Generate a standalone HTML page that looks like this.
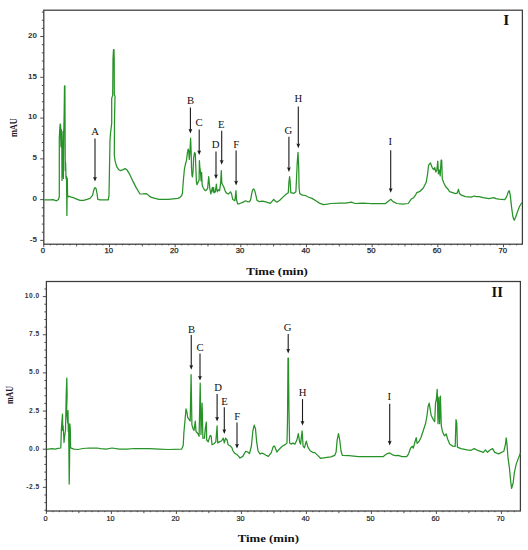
<!DOCTYPE html>
<html><head><meta charset="utf-8"><style>
html,body{margin:0;padding:0;background:#fff;}
body{width:528px;height:550px;overflow:hidden;}
svg{display:block;}
.yl1{font-family:"Liberation Sans",sans-serif;font-size:8px;font-weight:bold;fill:#333;}
.yl2{font-family:"Liberation Sans",sans-serif;font-size:6.6px;font-weight:bold;fill:#333;letter-spacing:0.5px;}
.xl1{font-family:"Liberation Sans",sans-serif;font-size:7.7px;fill:#222;stroke:#222;stroke-width:0.25px;}
.xl2{font-family:"Liberation Sans",sans-serif;font-size:7.3px;fill:#222;stroke:#222;stroke-width:0.2px;}
.pk{font-family:"Liberation Serif",serif;font-size:10.7px;fill:#111;}
.mau{font-family:"Liberation Serif",serif;font-size:9.6px;font-weight:bold;fill:#1a1a2a;}
.tt{font-family:"Liberation Serif",serif;font-size:12.6px;font-weight:bold;fill:#111;}
.rn{font-family:"Liberation Serif",serif;font-size:14.3px;font-weight:bold;fill:#111;}
</style></head><body>
<svg width="528" height="550" viewBox="0 0 528 550">
<rect x="43.8" y="10.2" width="478.59999999999997" height="234.0" fill="none" stroke="#3c3c3c" stroke-width="1.25"/>
<path d="M40.2 240.39H43.8 M41.8 232.24H43.8 M41.8 224.08H43.8 M41.8 215.93H43.8 M41.8 207.77H43.8 M40.2 199.62H43.8 M41.8 191.47H43.8 M41.8 183.31H43.8 M41.8 175.16H43.8 M41.8 167.00H43.8 M40.2 158.85H43.8 M41.8 150.70H43.8 M41.8 142.54H43.8 M41.8 134.39H43.8 M41.8 126.23H43.8 M40.2 118.08H43.8 M41.8 109.93H43.8 M41.8 101.77H43.8 M41.8 93.62H43.8 M41.8 85.46H43.8 M40.2 77.31H43.8 M41.8 69.16H43.8 M41.8 61.00H43.8 M41.8 52.85H43.8 M41.8 44.69H43.8 M40.2 36.54H43.8 M41.8 28.39H43.8 M41.8 20.23H43.8 M41.8 12.08H43.8" stroke="#3c3c3c" stroke-width="0.9" fill="none"/>
<text x="36.9" y="241.69" text-anchor="end" class="yl1">-5</text>
<text x="36.9" y="200.92" text-anchor="end" class="yl1">0</text>
<text x="36.9" y="160.15" text-anchor="end" class="yl1">5</text>
<text x="36.9" y="119.38" text-anchor="end" class="yl1">10</text>
<text x="36.9" y="78.61" text-anchor="end" class="yl1">15</text>
<text x="36.9" y="37.84" text-anchor="end" class="yl1">20</text>
<path d="M43.80 244.2V247.2 M50.37 244.2V245.39999999999998 M56.93 244.2V245.39999999999998 M63.50 244.2V245.39999999999998 M70.07 244.2V245.39999999999998 M76.63 244.2V246.39999999999998 M83.20 244.2V245.39999999999998 M89.77 244.2V245.39999999999998 M96.34 244.2V245.39999999999998 M102.90 244.2V245.39999999999998 M109.47 244.2V247.2 M116.04 244.2V245.39999999999998 M122.60 244.2V245.39999999999998 M129.17 244.2V245.39999999999998 M135.74 244.2V245.39999999999998 M142.31 244.2V246.39999999999998 M148.87 244.2V245.39999999999998 M155.44 244.2V245.39999999999998 M162.01 244.2V245.39999999999998 M168.57 244.2V245.39999999999998 M175.14 244.2V247.2 M181.71 244.2V245.39999999999998 M188.27 244.2V245.39999999999998 M194.84 244.2V245.39999999999998 M201.41 244.2V245.39999999999998 M207.98 244.2V246.39999999999998 M214.54 244.2V245.39999999999998 M221.11 244.2V245.39999999999998 M227.68 244.2V245.39999999999998 M234.24 244.2V245.39999999999998 M240.81 244.2V247.2 M247.38 244.2V245.39999999999998 M253.94 244.2V245.39999999999998 M260.51 244.2V245.39999999999998 M267.08 244.2V245.39999999999998 M273.64 244.2V246.39999999999998 M280.21 244.2V245.39999999999998 M286.78 244.2V245.39999999999998 M293.35 244.2V245.39999999999998 M299.91 244.2V245.39999999999998 M306.48 244.2V247.2 M313.05 244.2V245.39999999999998 M319.61 244.2V245.39999999999998 M326.18 244.2V245.39999999999998 M332.75 244.2V245.39999999999998 M339.31 244.2V246.39999999999998 M345.88 244.2V245.39999999999998 M352.45 244.2V245.39999999999998 M359.02 244.2V245.39999999999998 M365.58 244.2V245.39999999999998 M372.15 244.2V247.2 M378.72 244.2V245.39999999999998 M385.28 244.2V245.39999999999998 M391.85 244.2V245.39999999999998 M398.42 244.2V245.39999999999998 M404.99 244.2V246.39999999999998 M411.55 244.2V245.39999999999998 M418.12 244.2V245.39999999999998 M424.69 244.2V245.39999999999998 M431.25 244.2V245.39999999999998 M437.82 244.2V247.2 M444.39 244.2V245.39999999999998 M450.95 244.2V245.39999999999998 M457.52 244.2V245.39999999999998 M464.09 244.2V245.39999999999998 M470.66 244.2V246.39999999999998 M477.22 244.2V245.39999999999998 M483.79 244.2V245.39999999999998 M490.36 244.2V245.39999999999998 M496.92 244.2V245.39999999999998 M503.49 244.2V247.2 M510.06 244.2V245.39999999999998 M516.62 244.2V245.39999999999998" stroke="#3c3c3c" stroke-width="0.9" fill="none"/>
<text x="43.00" y="253.3" text-anchor="middle" class="xl1">0</text>
<text x="108.67" y="253.3" text-anchor="middle" class="xl1">10</text>
<text x="174.34" y="253.3" text-anchor="middle" class="xl1">20</text>
<text x="240.01" y="253.3" text-anchor="middle" class="xl1">30</text>
<text x="305.68" y="253.3" text-anchor="middle" class="xl1">40</text>
<text x="371.35" y="253.3" text-anchor="middle" class="xl1">50</text>
<text x="437.02" y="253.3" text-anchor="middle" class="xl1">60</text>
<text x="502.69" y="253.3" text-anchor="middle" class="xl1">70</text>
<rect x="46.4" y="281.5" width="474.0" height="229.5" fill="none" stroke="#3c3c3c" stroke-width="1.25"/>
<path d="M44.4 510.24H46.4 M44.4 502.61H46.4 M44.4 494.98H46.4 M42.8 487.35H46.4 M44.4 479.72H46.4 M44.4 472.09H46.4 M44.4 464.46H46.4 M44.4 456.83H46.4 M42.8 449.20H46.4 M44.4 441.57H46.4 M44.4 433.94H46.4 M44.4 426.31H46.4 M44.4 418.68H46.4 M42.8 411.05H46.4 M44.4 403.42H46.4 M44.4 395.79H46.4 M44.4 388.16H46.4 M44.4 380.53H46.4 M42.8 372.90H46.4 M44.4 365.27H46.4 M44.4 357.64H46.4 M44.4 350.01H46.4 M44.4 342.38H46.4 M42.8 334.75H46.4 M44.4 327.12H46.4 M44.4 319.49H46.4 M44.4 311.86H46.4 M44.4 304.23H46.4 M42.8 296.60H46.4 M44.4 288.97H46.4" stroke="#3c3c3c" stroke-width="0.9" fill="none"/>
<text x="39.7" y="488.85" text-anchor="end" class="yl2">-2.5</text>
<text x="39.7" y="450.70" text-anchor="end" class="yl2">0.0</text>
<text x="39.7" y="412.55" text-anchor="end" class="yl2">2.5</text>
<text x="39.7" y="374.40" text-anchor="end" class="yl2">5.0</text>
<text x="39.7" y="336.25" text-anchor="end" class="yl2">7.5</text>
<text x="39.7" y="298.10" text-anchor="end" class="yl2">10.0</text>
<path d="M46.40 511.0V514.0 M52.90 511.0V512.2 M59.40 511.0V512.2 M65.90 511.0V512.2 M72.40 511.0V512.2 M78.90 511.0V513.2 M85.40 511.0V512.2 M91.90 511.0V512.2 M98.40 511.0V512.2 M104.90 511.0V512.2 M111.40 511.0V514.0 M117.90 511.0V512.2 M124.40 511.0V512.2 M130.90 511.0V512.2 M137.40 511.0V512.2 M143.90 511.0V513.2 M150.40 511.0V512.2 M156.90 511.0V512.2 M163.40 511.0V512.2 M169.90 511.0V512.2 M176.40 511.0V514.0 M182.90 511.0V512.2 M189.40 511.0V512.2 M195.90 511.0V512.2 M202.40 511.0V512.2 M208.90 511.0V513.2 M215.40 511.0V512.2 M221.90 511.0V512.2 M228.40 511.0V512.2 M234.90 511.0V512.2 M241.40 511.0V514.0 M247.90 511.0V512.2 M254.40 511.0V512.2 M260.90 511.0V512.2 M267.40 511.0V512.2 M273.90 511.0V513.2 M280.40 511.0V512.2 M286.90 511.0V512.2 M293.40 511.0V512.2 M299.90 511.0V512.2 M306.40 511.0V514.0 M312.90 511.0V512.2 M319.40 511.0V512.2 M325.90 511.0V512.2 M332.40 511.0V512.2 M338.90 511.0V513.2 M345.40 511.0V512.2 M351.90 511.0V512.2 M358.40 511.0V512.2 M364.90 511.0V512.2 M371.40 511.0V514.0 M377.90 511.0V512.2 M384.40 511.0V512.2 M390.90 511.0V512.2 M397.40 511.0V512.2 M403.90 511.0V513.2 M410.40 511.0V512.2 M416.90 511.0V512.2 M423.40 511.0V512.2 M429.90 511.0V512.2 M436.40 511.0V514.0 M442.90 511.0V512.2 M449.40 511.0V512.2 M455.90 511.0V512.2 M462.40 511.0V512.2 M468.90 511.0V513.2 M475.40 511.0V512.2 M481.90 511.0V512.2 M488.40 511.0V512.2 M494.90 511.0V512.2 M501.40 511.0V514.0 M507.90 511.0V512.2 M514.40 511.0V512.2" stroke="#3c3c3c" stroke-width="0.9" fill="none"/>
<text x="45.60" y="520.6" text-anchor="middle" class="xl2">0</text>
<text x="110.60" y="520.6" text-anchor="middle" class="xl2">10</text>
<text x="175.60" y="520.6" text-anchor="middle" class="xl2">20</text>
<text x="240.60" y="520.6" text-anchor="middle" class="xl2">30</text>
<text x="305.60" y="520.6" text-anchor="middle" class="xl2">40</text>
<text x="370.60" y="520.6" text-anchor="middle" class="xl2">50</text>
<text x="435.60" y="520.6" text-anchor="middle" class="xl2">60</text>
<text x="500.60" y="520.6" text-anchor="middle" class="xl2">70</text>
<polyline points="44.2,199.9 50.0,199.9 53.0,199.6 56.5,200.8 58.5,199.4 59.3,196.8 59.3,137.7 59.8,128.4 60.2,124.0 60.6,125.4 61.0,146.8 60.6,135.4 61.3,129.4 61.8,146.8 62.0,180.4 62.3,150.4 62.6,176.4 63.0,131.4 63.4,178.4 63.8,131.4 64.2,110.4 64.5,85.9 64.9,85.9 65.1,131.4 65.3,170.4 65.6,162.4 66.0,178.4 66.5,176.4 66.9,215.4 67.3,178.4 67.6,195.4 68.4,196.8 69.5,196.4 71.3,197.1 73.5,197.6 75.4,198.7 80.0,200.4 83.6,200.3 87.0,199.4 90.0,198.4 92.5,195.4 94.0,189.4 95.0,187.6 96.0,188.4 97.0,193.4 97.8,199.4 100.0,199.9 105.0,199.9 108.2,199.9 109.0,195.4 109.5,167.2 110.0,140.4 110.5,133.4 111.7,123.4 111.7,98.4 112.7,95.1 113.0,59.4 113.5,49.6 114.0,49.9 114.2,59.4 114.3,95.1 115.0,95.9 114.5,120.4 114.3,155.0 115.0,160.4 115.7,163.2 117.0,167.2 118.5,169.4 120.5,170.7 122.5,169.9 125.2,168.6 127.0,169.9 128.5,172.4 130.0,174.9 133.0,181.4 136.0,187.4 140.0,194.0 143.0,193.9 146.6,193.6 149.0,195.9 151.4,197.4 155.0,198.4 159.0,199.4 168.4,199.4 177.9,198.4 180.0,197.4 181.7,195.5 182.4,193.3 183.3,181.3 184.4,169.3 185.5,163.8 186.5,160.4 187.4,152.9 188.2,149.1 188.7,150.8 189.3,159.4 189.8,154.0 190.6,138.2 190.9,145.3 191.2,154.0 191.5,167.1 192.0,175.8 192.5,176.9 193.1,170.4 193.6,158.4 194.2,154.0 194.7,152.4 195.3,154.0 195.8,167.1 196.4,181.3 196.9,184.6 198.0,182.4 199.1,180.2 199.4,160.6 199.8,167.1 200.2,169.3 200.7,175.8 201.1,180.9 201.6,172.4 202.2,185.3 203.3,188.0 204.4,189.7 205.5,190.7 206.5,189.7 207.6,188.6 208.7,176.6 209.3,183.1 209.8,188.6 210.9,194.0 212.0,188.6 212.5,187.5 213.1,191.8 213.6,187.5 214.2,192.9 215.3,191.8 216.4,184.2 216.9,189.7 217.4,191.8 218.5,189.7 219.6,190.7 220.2,186.4 220.7,182.0 221.3,170.6 221.8,183.1 222.9,185.3 224.0,187.5 225.1,190.7 226.2,192.9 228.4,194.0 229.5,192.9 230.5,191.8 231.6,194.0 232.7,199.5 234.9,200.6 236.0,190.7 236.5,199.5 237.6,203.8 239.3,203.8 241.4,202.8 243.6,201.9 245.7,200.8 247.6,201.8 249.5,201.6 250.6,199.8 251.7,193.6 252.6,189.9 253.6,188.9 254.6,190.4 255.5,193.6 257.0,200.3 258.9,201.6 262.7,201.2 266.5,202.2 270.3,203.4 272.2,201.2 273.7,199.3 275.0,200.8 276.9,202.2 279.8,200.3 282.6,197.4 286.4,194.0 288.3,192.7 288.9,182.3 289.6,176.6 290.2,182.3 290.8,192.7 294.0,193.3 295.9,191.7 297.2,163.3 298.0,152.4 298.7,167.1 299.1,188.0 299.8,193.6 302.5,195.2 305.3,195.5 308.2,197.0 312.0,198.4 315.8,200.8 319.5,203.1 323.3,204.6 327.1,204.1 330.9,203.5 340.0,203.1 345.7,203.1 351.4,202.2 355.2,203.5 362.7,203.1 370.3,203.5 377.9,203.5 385.5,203.5 388.3,201.2 390.8,199.3 393.0,201.6 396.8,203.5 402.5,204.2 408.2,203.5 411.0,199.3 413.9,197.4 415.8,194.6 416.7,192.7 419.5,191.7 423.3,188.0 426.2,182.3 427.5,174.7 428.6,165.2 430.5,163.0 432.4,168.1 433.8,169.6 434.8,167.6 435.8,172.0 436.8,170.0 437.8,161.1 438.4,173.9 439.4,170.0 440.2,175.9 441.1,160.2 441.7,160.2 442.3,178.9 443.7,182.8 445.7,186.7 447.6,188.7 449.6,191.7 452.6,192.7 455.5,193.6 457.1,193.2 458.5,189.3 459.5,193.6 461.4,195.2 465.4,196.6 471.3,197.2 474.2,196.0 476.2,196.6 479.2,196.6 483.1,197.6 489.0,198.6 493.9,197.6 495.9,198.6 498.8,199.2 504.8,199.6 506.7,196.6 508.3,191.7 509.3,190.7 510.3,195.6 511.6,207.4 513.0,217.3 514.2,220.2 515.6,217.3 517.6,211.4 519.5,206.5 521.9,202.5" fill="none" stroke="#279227" stroke-width="1.25" stroke-linejoin="round"/>
<polyline points="46.6,449.3 52.0,448.7 55.0,449.1 58.0,448.4 60.8,448.0 61.4,428.7 62.0,420.5 62.5,414.2 62.8,430.5 62.2,428.5 63.1,425.8 63.7,435.5 64.0,442.5 64.6,436.5 65.5,430.5 66.2,395.5 66.8,378.1 67.1,395.5 66.6,410.5 67.7,422.9 68.0,410.5 68.3,431.5 68.6,423.5 69.0,460.5 69.2,484.0 69.6,460.5 69.8,423.9 70.3,428.5 70.6,448.0 71.2,448.2 74.0,449.1 77.9,449.5 83.0,448.5 89.2,448.0 96.8,448.0 100.6,448.7 106.3,449.1 112.0,448.0 119.5,449.1 127.0,449.1 134.7,448.5 140.0,448.6 149.5,448.6 158.9,449.1 168.4,449.5 181.7,449.1 183.2,445.5 183.9,432.5 185.1,419.2 186.0,408.8 187.0,412.5 187.7,417.3 188.9,419.2 190.2,421.1 191.1,374.7 191.9,424.9 193.0,428.5 194.0,430.5 195.3,421.1 196.0,431.5 197.8,433.5 199.1,436.3 200.2,383.2 201.0,434.4 202.1,403.1 202.9,438.2 204.4,438.2 205.3,428.7 206.3,422.1 206.7,440.0 208.2,441.9 210.1,435.3 211.2,436.3 212.0,444.8 213.9,443.8 215.8,441.9 217.1,425.8 217.7,442.9 219.5,441.9 221.4,441.0 223.3,438.2 224.3,442.9 225.6,438.2 227.1,440.0 228.1,444.8 230.0,445.7 231.9,447.6 232.8,450.5 234.7,453.3 236.6,454.3 238.5,456.1 240.0,458.0 242.8,456.4 245.7,451.3 247.6,452.0 249.5,453.5 251.4,446.0 252.9,430.8 254.2,425.1 255.5,428.9 256.7,442.2 258.0,450.7 259.9,453.9 262.7,453.2 265.6,455.0 268.4,456.4 271.3,452.6 273.1,446.9 274.5,446.0 276.0,449.7 276.9,452.0 278.8,449.7 280.7,447.8 282.6,446.0 285.5,444.4 287.0,443.1 287.5,420.5 288.0,358.0 288.4,358.0 288.9,406.2 289.6,443.1 291.1,444.1 293.0,443.1 294.9,444.1 296.8,440.3 298.3,433.6 299.7,442.2 300.6,444.1 302.1,430.8 303.1,446.0 304.4,447.8 306.3,441.2 307.8,446.9 310.1,450.7 312.9,452.6 314.8,452.6 317.7,455.4 320.5,458.3 325.2,457.7 330.9,456.9 334.7,455.4 336.1,451.9 337.2,439.6 338.5,433.6 339.8,440.5 341.0,451.0 342.3,455.3 349.0,455.7 358.4,456.7 368.0,456.7 377.0,456.7 383.0,456.7 386.8,453.8 389.7,452.9 392.5,454.8 395.3,455.7 398.2,455.3 402.0,456.7 406.7,456.7 408.6,453.8 410.5,448.2 412.4,446.3 413.3,448.2 414.8,442.5 416.2,437.7 417.1,443.4 419.0,441.5 421.0,437.5 423.7,429.2 425.6,423.5 427.0,415.5 428.1,406.5 429.2,403.2 430.2,409.4 431.2,415.5 433.3,419.6 434.7,421.6 435.5,403.2 436.4,399.1 437.2,389.3 438.0,423.7 438.8,397.1 439.6,423.7 440.4,396.1 441.3,425.7 442.5,431.8 444.5,435.9 446.2,433.9 447.6,439.0 449.7,444.1 452.7,446.2 455.2,446.5 456.0,419.6 456.8,423.7 457.4,447.2 460.9,448.6 467.0,449.8 471.1,450.3 474.2,448.6 478.3,450.7 483.4,452.3 485.4,449.8 487.5,452.3 490.0,450.0 492.6,448.6 494.6,452.3 498.7,453.9 503.8,451.3 505.5,444.1 506.2,437.8 507.0,444.5 508.0,457.8 509.5,468.7 510.7,481.4 511.6,488.3 513.1,483.2 514.4,472.3 516.2,464.1 518.9,456.9 520.4,453.2" fill="none" stroke="#279227" stroke-width="1.25" stroke-linejoin="round"/>
<text x="95.0" y="135.3" text-anchor="middle" class="pk">A</text>
<path d="M95.0 138.5V178.0" stroke="#1a1a1a" stroke-width="1.1" fill="none"/>
<path d="M93.10 176.9L95.00 177.5L96.90 176.9L95.00 181.5Z" fill="#1a1a1a"/>
<text x="190.6" y="104.3" text-anchor="middle" class="pk">B</text>
<path d="M190.4 107.5V130.1" stroke="#1a1a1a" stroke-width="1.1" fill="none"/>
<path d="M188.50 129.0L190.40 129.6L192.30 129.0L190.40 133.6Z" fill="#1a1a1a"/>
<text x="199.0" y="126.3" text-anchor="middle" class="pk">C</text>
<path d="M199.2 129.6V151.5" stroke="#1a1a1a" stroke-width="1.1" fill="none"/>
<path d="M197.30 150.4L199.20 151.0L201.10 150.4L199.20 155.0Z" fill="#1a1a1a"/>
<text x="215.6" y="147.9" text-anchor="middle" class="pk">D</text>
<path d="M216.0 151.6V175.5" stroke="#1a1a1a" stroke-width="1.1" fill="none"/>
<path d="M214.10 174.4L216.00 175.0L217.90 174.4L216.00 179.0Z" fill="#1a1a1a"/>
<text x="221.3" y="128.3" text-anchor="middle" class="pk">E</text>
<path d="M221.7 130.8V161.2" stroke="#1a1a1a" stroke-width="1.1" fill="none"/>
<path d="M219.80 160.1L221.70 160.7L223.60 160.1L221.70 164.7Z" fill="#1a1a1a"/>
<text x="236.2" y="147.7" text-anchor="middle" class="pk">F</text>
<path d="M236.1 150.5V181.9" stroke="#1a1a1a" stroke-width="1.1" fill="none"/>
<path d="M234.20 180.8L236.10 181.4L238.00 180.8L236.10 185.4Z" fill="#1a1a1a"/>
<text x="288.4" y="134.3" text-anchor="middle" class="pk">G</text>
<path d="M288.9 136.8V168.4" stroke="#1a1a1a" stroke-width="1.1" fill="none"/>
<path d="M287.00 167.3L288.90 167.9L290.80 167.3L288.90 171.9Z" fill="#1a1a1a"/>
<text x="298.4" y="101.6" text-anchor="middle" class="pk">H</text>
<path d="M298.3 106.5V144.7" stroke="#1a1a1a" stroke-width="1.1" fill="none"/>
<path d="M296.40 143.6L298.30 144.2L300.20 143.6L298.30 148.2Z" fill="#1a1a1a"/>
<text x="390.2" y="145.3" text-anchor="middle" class="pk">I</text>
<path d="M390.7 150.2V189.3" stroke="#1a1a1a" stroke-width="1.1" fill="none"/>
<path d="M388.80 188.2L390.70 188.8L392.60 188.2L390.70 192.8Z" fill="#1a1a1a"/>
<text x="191.5" y="332.9" text-anchor="middle" class="pk">B</text>
<path d="M191.25 335.0V366.2" stroke="#1a1a1a" stroke-width="1.1" fill="none"/>
<path d="M189.35 365.1L191.25 365.7L193.15 365.1L191.25 369.7Z" fill="#1a1a1a"/>
<text x="200.0" y="350.5" text-anchor="middle" class="pk">C</text>
<path d="M200.0 353.4V377.0" stroke="#1a1a1a" stroke-width="1.1" fill="none"/>
<path d="M198.10 375.9L200.00 376.5L201.90 375.9L200.00 380.5Z" fill="#1a1a1a"/>
<text x="218.1" y="391.0" text-anchor="middle" class="pk">D</text>
<path d="M217.1 394.1V418.1" stroke="#1a1a1a" stroke-width="1.1" fill="none"/>
<path d="M215.20 417.0L217.10 417.6L219.00 417.0L217.10 421.6Z" fill="#1a1a1a"/>
<text x="224.5" y="404.8" text-anchor="middle" class="pk">E</text>
<path d="M224.3 407.3V430.4" stroke="#1a1a1a" stroke-width="1.1" fill="none"/>
<path d="M222.40 429.3L224.30 429.9L226.20 429.3L224.30 433.9Z" fill="#1a1a1a"/>
<text x="237.3" y="419.9" text-anchor="middle" class="pk">F</text>
<path d="M237.0 422.5V445.1" stroke="#1a1a1a" stroke-width="1.1" fill="none"/>
<path d="M235.10 444.0L237.00 444.6L238.90 444.0L237.00 448.6Z" fill="#1a1a1a"/>
<text x="287.5" y="331.3" text-anchor="middle" class="pk">G</text>
<path d="M288.2 334.1V349.9" stroke="#1a1a1a" stroke-width="1.1" fill="none"/>
<path d="M286.30 348.8L288.20 349.4L290.10 348.8L288.20 353.4Z" fill="#1a1a1a"/>
<text x="302.5" y="396.0" text-anchor="middle" class="pk">H</text>
<path d="M302.5 399.1V422.1" stroke="#1a1a1a" stroke-width="1.1" fill="none"/>
<path d="M300.60 421.0L302.50 421.6L304.40 421.0L302.50 425.6Z" fill="#1a1a1a"/>
<text x="389.2" y="399.8" text-anchor="middle" class="pk">I</text>
<path d="M389.7 403.7V441.9" stroke="#1a1a1a" stroke-width="1.1" fill="none"/>
<path d="M387.80 440.8L389.70 441.4L391.60 440.8L389.70 445.4Z" fill="#1a1a1a"/>
<text x="0" y="0" class="mau" style="font-size:9.8px" transform="translate(17.2 127.6) rotate(-90)" text-anchor="middle" textLength="19" lengthAdjust="spacingAndGlyphs">mAU</text>
<text x="0" y="0" class="mau" style="font-size:10.6px" transform="translate(13.3 395) rotate(-90)" text-anchor="middle" textLength="18.2" lengthAdjust="spacingAndGlyphs">mAU</text>
<text x="277.1" y="275.3" class="tt" style="font-size:11.2px" text-anchor="middle" textLength="61.5" lengthAdjust="spacingAndGlyphs">Time (min)</text>
<text x="268.3" y="541.8" class="tt" style="font-size:10.6px" text-anchor="middle" textLength="61.3" lengthAdjust="spacingAndGlyphs">Time (min)</text>
<text x="506.3" y="24.6" class="rn" text-anchor="middle" textLength="6" lengthAdjust="spacingAndGlyphs">I</text>
<text x="497.2" y="297.3" class="rn" text-anchor="middle" textLength="11.4" lengthAdjust="spacingAndGlyphs">II</text>
</svg>
</body></html>
